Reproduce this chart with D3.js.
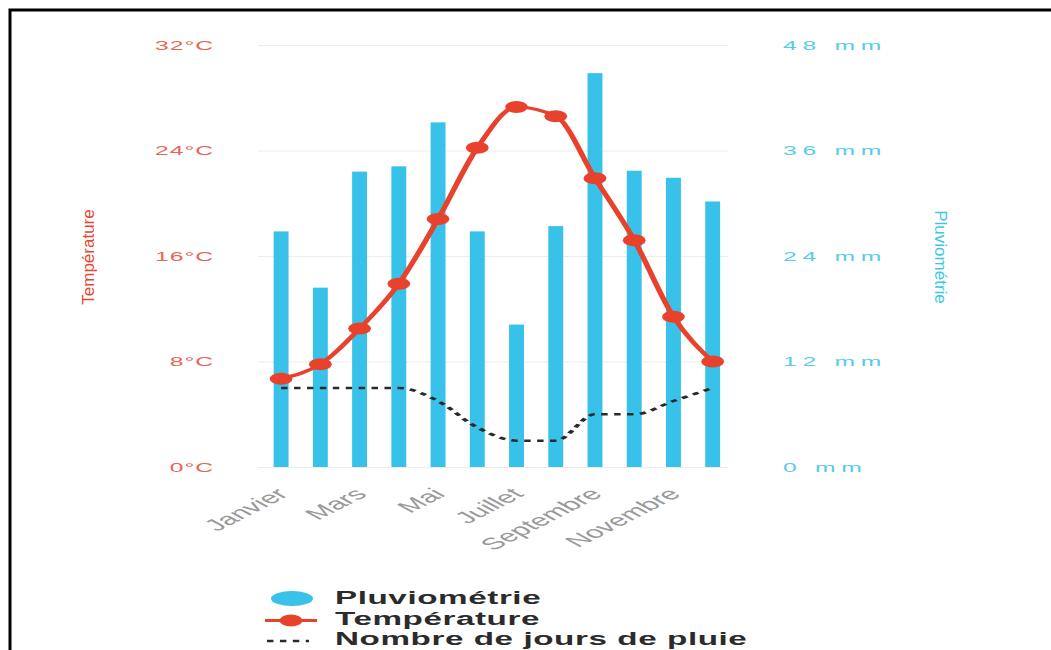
<!DOCTYPE html>
<html><head><meta charset="utf-8">
<script src="https://cdn.jsdelivr.net/npm/d3@7"></script>
<style>html,body{margin:0;padding:0;background:#fff;} svg{display:block;}</style>
</head><body>
<svg id="chart" width="1051" height="650"></svg>
<script>
const months = ["Janvier","Février","Mars","Avril","Mai","Juin","Juillet","Août","Septembre","Octobre","Novembre","Décembre"];
const rainfall = [26.8, 20.4, 33.6, 34.2, 39.2, 26.8, 16.2, 27.4, 44.8, 33.7, 32.9, 30.2];
const temperature = [6.7, 7.8, 10.5, 13.9, 18.8, 24.2, 27.3, 26.6, 21.9, 17.2, 11.4, 8.0];
const rainyDays = [6, 6, 6, 6, 5, 3, 2, 2, 4, 4, 5, 6];
const tempTicks = [0, 8, 16, 24, 32];
const rainTicks = [0, 12, 24, 36, 48];
const legendLabels = ["Pluviométrie", "Température", "Nombre de jours de pluie"];
const titleLeft = "Température";
const titleRight = "Pluviométrie";

const RED = "#e8412c", BLUE = "#38c2ea";
const SX = 1.9;                 // the reference picture is stretched horizontally
const X = v => v / SX;          // final pixel -> inner coordinate
const FONT = "'Liberation Sans', Arial, sans-serif";

const svg = d3.select("#chart");
svg.append("rect").attr("x", 10).attr("y", 10).attr("width", 1100).attr("height", 700)
  .attr("fill", "#fff").attr("stroke", "#000").attr("stroke-width", 3);

const g = svg.append("g").attr("transform", `scale(${SX},1)`);

const x = d3.scaleBand().domain(months).range([X(261.5), X(732.3)])
  .paddingInner(0.62).paddingOuter(0.31);
const yT = d3.scaleLinear().domain([0, 32]).range([467, 45]);
const yR = d3.scaleLinear().domain([0, 48]).range([467, 45]);
const yD = d3.scaleLinear().domain([0, 32]).range([467, 45]);
const cx = m => x(m) + x.bandwidth() / 2;

// grid
const grid = g.append("g").attr("transform", `translate(${X(258)},0)`)
  .call(d3.axisLeft(yT).tickValues(tempTicks).tickSize(-(X(728) - X(258))).tickFormat(""));
grid.select(".domain").remove();
grid.selectAll("line").attr("stroke", "#ececec").attr("stroke-width", 1.2);

// left axis
const axL = g.append("g").attr("transform", `translate(${X(258)},0)`)
  .call(d3.axisLeft(yT).tickValues(tempTicks).tickSize(0).tickPadding(X(258 - 214)).tickFormat(d => d + "°C"));
axL.select(".domain").remove();
axL.selectAll("text").attr("fill", "#ea6450").attr("font-family", FONT).attr("font-size", 13)
  .attr("letter-spacing", 0.5);

// right axis
const axR = g.append("g").attr("transform", `translate(${X(728)},0)`)
  .call(d3.axisRight(yR).tickValues(rainTicks).tickSize(0).tickPadding(X(783 - 728)).tickFormat(d => d + " mm"));
axR.select(".domain").remove();
axR.selectAll("text").attr("fill", "#55cdea").attr("font-family", FONT).attr("font-size", 13)
  .attr("letter-spacing", 3);

// bars
g.append("g").selectAll("rect").data(months).join("rect")
  .attr("x", d => x(d)).attr("width", x.bandwidth())
  .attr("y", (d, i) => yR(rainfall[i])).attr("height", (d, i) => yR(0) - yR(rainfall[i]))
  .attr("fill", BLUE);

// x axis
const axB = g.append("g").attr("transform", `translate(0,467)`)
  .call(d3.axisBottom(x).tickValues(months.filter((d, i) => i % 2 === 0)).tickSize(0));
axB.select(".domain").remove();
axB.selectAll("text").attr("fill", "#999").attr("font-family", FONT).attr("font-size", 16.5)
  .attr("text-anchor", "end").attr("x", 0).attr("y", 0).attr("dy", "0.35em")
  .attr("transform", "translate(0.5,24) rotate(-44)");

// rainy days (dotted)
const lineD = d3.line().x((d, i) => cx(months[i])).y(d => yD(d)).curve(d3.curveMonotoneX);
g.append("path").datum(rainyDays).attr("d", lineD).attr("fill", "none")
  .attr("stroke", "#2a2a2a").attr("stroke-width", 2.5).attr("stroke-dasharray", "3.4,3.4");

// temperature line
const lineT = d3.line().x((d, i) => cx(months[i])).y(d => yT(d)).curve(d3.curveMonotoneX);
g.append("path").datum(temperature).attr("d", lineT).attr("fill", "none")
  .attr("stroke", RED).attr("stroke-width", 3);
g.append("g").selectAll("circle").data(temperature).join("circle")
  .attr("cx", (d, i) => cx(months[i])).attr("cy", d => yT(d)).attr("r", 6).attr("fill", RED);

// axis titles
svg.append("text").attr("transform", "translate(88,257) rotate(-90)")
  .attr("text-anchor", "middle").attr("dominant-baseline", "central")
  .attr("font-family", FONT).attr("font-size", 17).attr("fill", "#e8452f").text(titleLeft);
svg.append("text").attr("transform", "translate(940,257) rotate(90)")
  .attr("text-anchor", "middle").attr("dominant-baseline", "central")
  .attr("font-family", FONT).attr("font-size", 17).attr("fill", "#3cc6ea").text(titleRight);

// legend
const leg = g.append("g");
const rows = [604, 625.5, 645.5];
leg.append("ellipse").attr("cx", X(292)).attr("cy", 598.5).attr("rx", X(21)).attr("ry", 7.5).attr("fill", BLUE);
leg.append("line").attr("x1", X(265)).attr("x2", X(317)).attr("y1", 620.5).attr("y2", 620.5)
  .attr("stroke", RED).attr("stroke-width", 3);
leg.append("circle").attr("cx", X(291)).attr("cy", 620.5).attr("r", 6).attr("fill", RED);
leg.append("line").attr("x1", X(267)).attr("x2", X(309)).attr("y1", 641).attr("y2", 641)
  .attr("stroke", "#2a2a2a").attr("stroke-width", 2.5).attr("stroke-dasharray", "3.4,3.4");
leg.selectAll("text").data(legendLabels).join("text")
  .attr("x", X(335)).attr("y", (d, i) => rows[i])
  .attr("font-family", FONT).attr("font-weight", "bold").attr("font-size", 17.5)
  .attr("letter-spacing", 0.3)
  .attr("fill", "#2b2b2b").text(d => d);
</script>
</body></html>
